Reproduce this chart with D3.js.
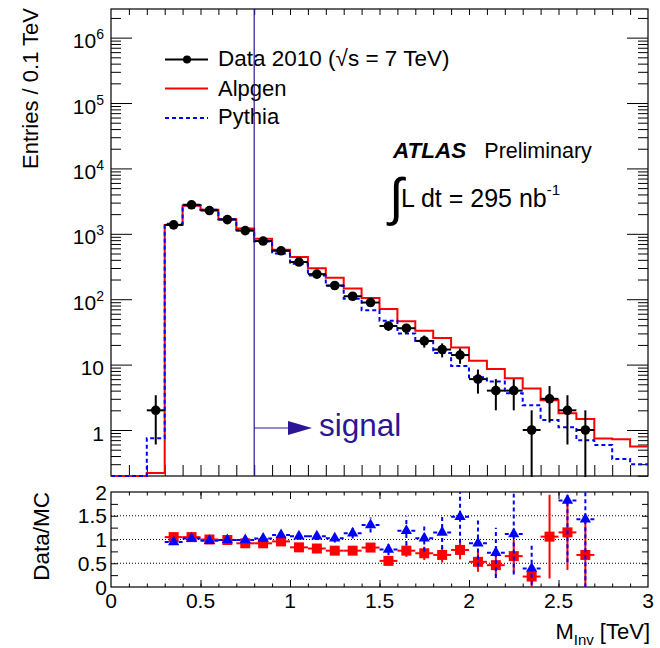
<!DOCTYPE html>
<html>
<head>
<meta charset="utf-8">
<script src="https://d3js.org/d3.v7.min.js"></script>
<style>
  body { margin: 0; background: #fff; }
  svg text { font-family: "Liberation Sans", Arial, Helvetica, sans-serif; fill: #000; }
</style>
</head>
<body>
<div id="chart"></div>
<script>
// MC histograms: bin centres (0.1 TeV bins) and entries
var mcBins = [0.05, 0.15, 0.25, 0.35, 0.45, 0.55, 0.65, 0.75, 0.85, 0.95,
  1.05, 1.15, 1.25, 1.35, 1.45, 1.55, 1.65, 1.75, 1.85, 1.95,
  2.05, 2.15, 2.25, 2.35, 2.45, 2.55, 2.65, 2.75, 2.85, 2.95];
var alpgen = [0, 0, 0.22, 1360, 2680, 2330, 1670, 1210, 840, 572,
  442, 298, 212, 146, 104, 71, 46, 33, 25.5, 18.2,
  11.5, 8.6, 6.2, 4.3, 2.85, 1.8, 1.47, 0.74, 0.72, 0.56];
var pythia = [0, 0, 0.75, 1420, 2740, 2330, 1670, 1130, 760, 500,
  350, 230, 160, 102, 68, 47, 30, 23, 15, 9.5,
  6.4, 5.5, 3.64, 2.4, 1.42, 1.1, 0.70, 0.59, 0.36, 0.30];

// data 2010
var dataBins = [0.25, 0.35, 0.45, 0.55, 0.65, 0.75, 0.85, 0.95, 1.05, 1.15,
  1.25, 1.35, 1.45, 1.55, 1.65, 1.75, 1.85, 1.95, 2.05, 2.15,
  2.25, 2.35, 2.45, 2.55, 2.65];
var dataVals = [2, 1370, 2780, 2270, 1650, 1120, 775, 550, 370, 242,
  162, 111, 89, 39, 36, 23, 17, 14, 6, 4,
  4, 1, 3, 2, 1];
var dataErr = [1.4, 37, 53, 48, 41, 33, 28, 23, 19, 16,
  13, 10.5, 9.4, 6.2, 6, 4.8, 4.1, 3.7, 2.4, 2,
  2, 1, 1.7, 1.4, 1];

// ratio panel
var ratioBins = [0.35, 0.45, 0.55, 0.65, 0.75, 0.85, 0.95, 1.05, 1.15, 1.25,
  1.35, 1.45, 1.55, 1.65, 1.75, 1.85, 1.95, 2.05, 2.15, 2.25,
  2.35, 2.45, 2.55, 2.65];
var ratioAlpgen = [1.05, 1.05, 1.0, 0.99, 0.92, 0.92, 0.96, 0.835, 0.81, 0.765,
  0.765, 0.83, 0.55, 0.765, 0.71, 0.675, 0.78, 0.53, 0.46, 0.65,
  0.22, 1.06, 1.15, 0.675];
var ratioAlpgenErr = [0.03, 0.02, 0.02, 0.03, 0.03, 0.04, 0.04, 0.04, 0.05, 0.06,
  0.07, 0.09, 0.09, 0.13, 0.14, 0.16, 0.2, 0.21, 0.23, 0.34,
  0.23, 0.88, 0.79, 0.68];
var ratioPythia = [0.95, 1.02, 0.975, 0.99, 0.99, 1.02, 1.095, 1.07, 1.07, 1.025,
  1.13, 1.305, 0.79, 1.185, 1.025, 1.15, 1.48, 0.92, 0.72, 1.115,
  0.39, null, 1.82, 1.425];
var ratioPythiaErr = [0.03, 0.03, 0.03, 0.03, 0.04, 0.05, 0.06, 0.07, 0.08, 0.09,
  0.11, 0.16, 0.12, 0.3, 0.28, 0.35, 0.55, 0.49, 0.53, 0.85,
  0.49, null, 1.3, 1.43];

// axis ticks
var logMajor = [1, 10, 100, 1e3, 1e4, 1e5, 1e6];
var ratioLabels = [0, 0.5, 1, 1.5, 2];
var massLabels = [0, 0.5, 1, 1.5, 2, 2.5, 3];
var signalMass = 0.8;

var HALF_BIN = 0.05;
var RED = "#ff0000", BLUE = "#0000ff", SIGNAL = "#2c1696";

var svg = d3.select("#chart")
  .append("svg")
  .attr("width", 660)
  .attr("height", 648);

// scales
var x = d3.scaleLinear().domain([0, 3]).range([111, 648]);
var y = d3.scaleLog().domain([0.198, 2.74e6]).range([476, 9]);
var yr = d3.scaleLinear().domain([0, 2]).range([587, 492]);

var yv = v => v > 0 ? y(v) : 476;

// clip paths
var defs = svg.append("defs");
defs.append("clipPath").attr("id", "clipTop")
  .append("rect").attr("x", 111).attr("y", 9).attr("width", 537).attr("height", 468);
defs.append("clipPath").attr("id", "clipBot")
  .append("rect").attr("x", 111).attr("y", 492).attr("width", 537).attr("height", 95);

// ---------- top panel axes ----------
var minorLog = [];
for (var e = -1; e <= 6; e++) {
  for (var k = 2; k <= 9; k++) {
    var v = k * Math.pow(10, e);
    if (v > 0.198 && v < 2.74e6) minorLog.push(v);
  }
}
var tenths = [];
for (var t = 1; t < 30; t++) tenths.push(t / 10);

function plainAxis(g) {
  g.select(".domain").remove();
  g.selectAll("line").attr("stroke", "#000").attr("stroke-width", 1);
  g.selectAll("text").remove();
}

svg.append("g").attr("transform", "translate(111,0)")
  .call(d3.axisRight(y).tickValues(logMajor).tickSize(21)).call(plainAxis);
svg.append("g").attr("transform", "translate(111,0)")
  .call(d3.axisRight(y).tickValues(minorLog).tickSize(10)).call(plainAxis);
svg.append("g").attr("transform", "translate(648,0)")
  .call(d3.axisLeft(y).tickValues(logMajor).tickSize(21)).call(plainAxis);
svg.append("g").attr("transform", "translate(648,0)")
  .call(d3.axisLeft(y).tickValues(minorLog).tickSize(10)).call(plainAxis);
svg.append("g").attr("transform", "translate(0,476)")
  .call(d3.axisTop(x).tickValues(tenths).tickSize(11)).call(plainAxis);
svg.append("g").attr("transform", "translate(0,9)")
  .call(d3.axisBottom(x).tickValues(tenths).tickSize(6)).call(plainAxis);

// log labels with superscripts
var logLab = svg.append("g").selectAll("text")
  .data(logMajor)
  .enter()
  .append("text")
  .attr("x", 104)
  .attr("y", d => y(d) + 10.5)
  .attr("text-anchor", "end")
  .style("font-size", "21px");
logLab.each(function(d) {
  var p = Math.round(Math.log10(d));
  var el = d3.select(this);
  if (p < 2) {
    el.text(d);
  } else {
    el.append("tspan").text("10");
    el.append("tspan").attr("dy", -9).style("font-size", "14px").text(p);
  }
});

svg.append("text")
  .attr("transform", "translate(38,8) rotate(-90)")
  .attr("text-anchor", "end")
  .style("font-size", "22px")
  .text("Entries / 0.1 TeV");

svg.append("rect")
  .attr("x", 111).attr("y", 9).attr("width", 537).attr("height", 467)
  .attr("fill", "none").attr("stroke", "#000").attr("stroke-width", 1.2);

// ---------- histograms ----------
function stepPoints(centers, values) {
  var pts = [];
  centers.forEach(function(c, i) {
    pts.push([c - HALF_BIN, values[i]]);
    pts.push([c + HALF_BIN, values[i]]);
  });
  return pts;
}
var stepLine = d3.line().x(d => x(d[0])).y(d => yv(d[1]));

var topPlot = svg.append("g").attr("clip-path", "url(#clipTop)");

topPlot.append("path")
  .attr("d", stepLine(stepPoints(mcBins, alpgen)))
  .attr("fill", "none")
  .attr("stroke", RED)
  .attr("stroke-width", 2);
topPlot.append("path")
  .attr("d", stepLine(stepPoints(mcBins, pythia)))
  .attr("fill", "none")
  .attr("stroke", BLUE)
  .attr("stroke-width", 2)
  .attr("stroke-dasharray", "4,3");

// data points
var dataPts = dataBins.map((c, i) => ({c: c, v: dataVals[i], e: dataErr[i]}));
topPlot.selectAll("dataV")
  .data(dataPts)
  .enter()
  .append("line")
  .attr("x1", d => x(d.c)).attr("x2", d => x(d.c))
  .attr("y1", d => d.v - d.e > 0 ? y(d.v - d.e) : 480)
  .attr("y2", d => y(d.v + d.e))
  .attr("stroke", "#000").attr("stroke-width", 2);
topPlot.selectAll("dataH")
  .data(dataPts)
  .enter()
  .append("line")
  .attr("x1", d => x(d.c - HALF_BIN)).attr("x2", d => x(d.c + HALF_BIN))
  .attr("y1", d => y(d.v)).attr("y2", d => y(d.v))
  .attr("stroke", "#000").attr("stroke-width", 2);
topPlot.selectAll("dataDot")
  .data(dataPts)
  .enter()
  .append("circle")
  .attr("cx", d => x(d.c)).attr("cy", d => y(d.v))
  .attr("r", 4.8)
  .attr("fill", "#000");

// legend
var legend = svg.append("g");
legend.append("line").attr("x1", 165).attr("x2", 208).attr("y1", 59.5).attr("y2", 59.5)
  .attr("stroke", "#000").attr("stroke-width", 2);
legend.append("circle").attr("cx", 187).attr("cy", 59.5).attr("r", 4).attr("fill", "#000");
legend.append("line").attr("x1", 165).attr("x2", 208).attr("y1", 88.5).attr("y2", 88.5)
  .attr("stroke", RED).attr("stroke-width", 2);
legend.append("line").attr("x1", 165).attr("x2", 208).attr("y1", 118).attr("y2", 118)
  .attr("stroke", BLUE).attr("stroke-width", 2).attr("stroke-dasharray", "4,3");
legend.append("text").attr("x", 218).attr("y", 66).style("font-size", "22.5px")
  .text("Data 2010 (\u221As = 7 TeV)");
legend.append("text").attr("x", 218).attr("y", 96).style("font-size", "22px").text("Alpgen");
legend.append("text").attr("x", 218).attr("y", 124).style("font-size", "22px").text("Pythia");

// ATLAS label
var atlas = svg.append("text").attr("x", 393).attr("y", 158).style("font-size", "21.5px");
atlas.append("tspan").style("font-weight", "bold").style("font-style", "italic")
  .style("font-size", "22.5px").text("ATLAS");
atlas.append("tspan").attr("dx", 18).text("Preliminary");

svg.append("text").attr("x", 389).attr("y", 215).style("font-size", "52px").text("\u222B");
var lumi = svg.append("text").attr("x", 401).attr("y", 207).style("font-size", "25px");
lumi.append("tspan").text("L dt = 295 nb");
lumi.append("tspan").attr("dy", -12).style("font-size", "15px").text("-1");

// signal marker
svg.append("line")
  .attr("x1", x(signalMass)).attr("x2", x(signalMass))
  .attr("y1", 9).attr("y2", 476)
  .attr("stroke", SIGNAL).attr("stroke-width", 1.2);
svg.append("line")
  .attr("x1", x(signalMass)).attr("x2", 292)
  .attr("y1", 428).attr("y2", 428)
  .attr("stroke", SIGNAL).attr("stroke-width", 1.2);
svg.append("path")
  .attr("d", "M288,421 L312,428 L288,435 Z")
  .attr("fill", SIGNAL);
svg.append("text")
  .attr("x", 319).attr("y", 436)
  .style("font-size", "31.5px")
  .style("fill", SIGNAL)
  .text("signal");

// ---------- ratio panel ----------
svg.selectAll("grid")
  .data([0.5, 1, 1.5])
  .enter()
  .append("line")
  .attr("x1", 111).attr("x2", 648)
  .attr("y1", d => yr(d)).attr("y2", d => yr(d))
  .attr("stroke", "#000").attr("stroke-width", 1)
  .attr("stroke-dasharray", "1,2");

var quarters = [0.25, 0.5, 0.75, 1, 1.25, 1.5, 1.75];
svg.append("g").attr("transform", "translate(111,0)")
  .call(d3.axisRight(yr).tickValues(quarters).tickSize(7)).call(plainAxis);
svg.append("g").attr("transform", "translate(648,0)")
  .call(d3.axisLeft(yr).tickValues(quarters).tickSize(6)).call(plainAxis);
svg.append("g").attr("transform", "translate(0,587)")
  .call(d3.axisTop(x).tickValues(tenths).tickSize(3.5)).call(plainAxis);
svg.append("g").attr("transform", "translate(0,587)")
  .call(d3.axisTop(x).tickValues([0.5, 1, 1.5, 2, 2.5]).tickSize(7)).call(plainAxis);
svg.append("g").attr("transform", "translate(0,492)")
  .call(d3.axisBottom(x).tickValues(tenths).tickSize(3.5)).call(plainAxis);
svg.append("g").attr("transform", "translate(0,492)")
  .call(d3.axisBottom(x).tickValues([0.5, 1, 1.5, 2, 2.5]).tickSize(7)).call(plainAxis);

svg.append("g").selectAll("text")
  .data(ratioLabels)
  .enter()
  .append("text")
  .attr("x", 107)
  .attr("y", d => yr(d))
  .attr("dy", "0.36em")
  .attr("text-anchor", "end")
  .style("font-size", "21px")
  .text(d => d);

svg.append("g").selectAll("text")
  .data(massLabels)
  .enter()
  .append("text")
  .attr("x", d => x(d))
  .attr("y", 608)
  .attr("text-anchor", "middle")
  .style("font-size", "21px")
  .text(d => d);

svg.append("text")
  .attr("transform", "translate(49,492) rotate(-90)")
  .attr("text-anchor", "end")
  .style("font-size", "22.5px")
  .text("Data/MC");

var xt = svg.append("text")
  .attr("x", 650).attr("y", 639)
  .attr("text-anchor", "end")
  .style("font-size", "22px");
xt.append("tspan").text("M");
xt.append("tspan").attr("dy", 6).style("font-size", "15px").text("Inv");
xt.append("tspan").attr("dy", -6).text(" [TeV]");

svg.append("rect")
  .attr("x", 111).attr("y", 492).attr("width", 537).attr("height", 95)
  .attr("fill", "none").attr("stroke", "#000").attr("stroke-width", 1.2);

var botPlot = svg.append("g").attr("clip-path", "url(#clipBot)");

function ratioSeries(vals, errs, color, dashed, symbol, size) {
  var pts = ratioBins.map((c, i) => ({c: c, v: vals[i], e: errs[i]}))
    .filter(d => d.v !== null);
  var g = botPlot.append("g");
  g.selectAll("rv")
    .data(pts)
    .enter()
    .append("line")
    .attr("x1", d => x(d.c)).attr("x2", d => x(d.c))
    .attr("y1", d => yr(Math.max(d.v - d.e, -0.1))).attr("y2", d => yr(d.v + d.e))
    .attr("stroke", color).attr("stroke-width", 2)
    .attr("stroke-dasharray", dashed ? "4,3" : null);
  g.selectAll("rh")
    .data(pts)
    .enter()
    .append("line")
    .attr("x1", d => x(d.c - HALF_BIN)).attr("x2", d => x(d.c + HALF_BIN))
    .attr("y1", d => yr(d.v)).attr("y2", d => yr(d.v))
    .attr("stroke", color).attr("stroke-width", 2)
    .attr("stroke-dasharray", dashed ? "4,3" : null);
  g.selectAll("rm")
    .data(pts)
    .enter()
    .append("path")
    .attr("d", d3.symbol().type(symbol).size(size))
    .attr("transform", d => "translate(" + x(d.c) + "," + yr(d.v) + ")")
    .attr("fill", color);
}
ratioSeries(ratioAlpgen, ratioAlpgenErr, RED, false, d3.symbolSquare, 100);
ratioSeries(ratioPythia, ratioPythiaErr, BLUE, true, d3.symbolTriangle, 55);
</script>
</body>
</html>
